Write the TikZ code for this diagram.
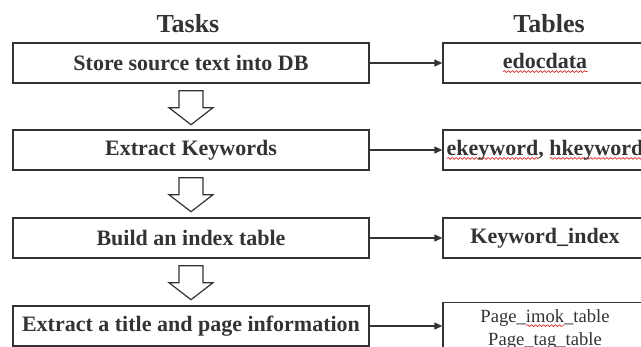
\documentclass[tikz,border=0pt]{standalone}
\usepackage{fontspec}
\setmainfont{Liberation Serif}
\usepackage{xcolor}
\usetikzlibrary{calc}
\usetikzlibrary{arrows.meta}
\usetikzlibrary{decorations.pathmorphing}

\definecolor{ink}{HTML}{333333}
\definecolor{spell}{HTML}{E03030}
% word with a red wavy underline
\newcommand{\redwave}[1]{\setbox0\hbox{#1}\rlap{\raisebox{-2.2pt}{\tikz\draw[spell, line width=0.35pt, decorate, decoration={snake, amplitude=0.45pt, segment length=2pt}] (0pt,0pt) -- (\the\wd0,0pt);}}\box0}

\begin{document}
\begin{tikzpicture}[x=0.5pt, y=-0.5pt,
  taskbox/.style={draw=ink, line width=0.7pt, minimum width=178pt, minimum height=20pt, inner sep=0pt, text=ink, font=\fontsize{11}{13}\selectfont\bfseries},
  tablebox/.style={taskbox, minimum width=102pt},
  heading/.style={text=ink, inner sep=0pt, anchor=base, font=\fontsize{13}{15}\selectfont\bfseries},
  link/.style={ink, line width=0.6pt, -{Triangle[length=4pt,width=3.5pt]}},
  hollow/.style={draw=ink, line width=0.6pt, fill=white, line join=miter}]

\useasboundingbox (0,0) rectangle (641,347);
\clip (0,0) rectangle (641,347);

% headings
{
\node[heading] (tasks) at (188,33) {Tasks};
\node[heading] (tables) at (549,33) {Tables};
}

% tasks
{
\node[taskbox] (store) at (191,63) {Store source text into DB};
\node[taskbox] (keys) at (191,150) {Extract Keywords};
\node[taskbox] (build) at (191,238) {Build an index table};
\node[taskbox] (title) at (191,326) {Extract a title and page information};
}

% tables
{
\node[tablebox] (edoc) at (545,63) {\redwave{edocdata}};
\node[tablebox] (ekey) at (545,150) {\redwave{ekeyword}, \redwave{hkeyword}};
\node[tablebox] (kindex) at (545,238) {Keyword\_index};
\node[tablebox, font=\fontsize{9.3}{11.5}\selectfont, align=center] (pages) at (545,326)
{\rule{0pt}{10pt}Page\_\redwave{imok}\_table\\Page\_tag\_table};
}

% links
\draw[link] (store) -- (edoc);
\draw[link] (keys) -- (ekey);
\draw[link] (build) -- (kindex);
\draw[link] (title) -- (pages);

% hollow arrows
\foreach \a in {store, keys, build}
  \draw[hollow] ($(\a.south)+(-12,7)$) -- ++(0,17) -- ++(-10,0) -- ++(22,17) -- ++(22,-17) -- ++(-10,0) -- ++(0,-17) -- cycle;

\end{tikzpicture}
\end{document}
